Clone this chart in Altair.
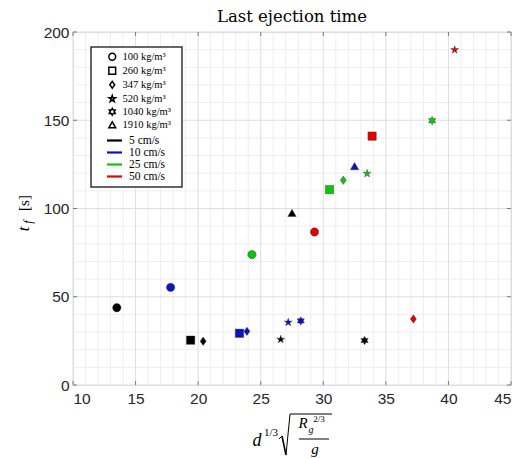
import altair as alt
import pandas as pd

# ---------------- data ----------------
density_levels = ["100 kg/m³", "260 kg/m³", "347 kg/m³", "520 kg/m³", "1040 kg/m³", "1910 kg/m³"]
speed_levels = ["5 cm/s", "10 cm/s", "25 cm/s", "50 cm/s"]

pt_density = ["100 kg/m³", "100 kg/m³", "100 kg/m³", "100 kg/m³",
              "260 kg/m³", "260 kg/m³", "260 kg/m³", "260 kg/m³",
              "347 kg/m³", "347 kg/m³", "347 kg/m³", "347 kg/m³",
              "520 kg/m³", "520 kg/m³", "520 kg/m³", "520 kg/m³",
              "1040 kg/m³", "1040 kg/m³", "1040 kg/m³",
              "1910 kg/m³", "1910 kg/m³"]
pt_speed = ["5 cm/s", "10 cm/s", "25 cm/s", "50 cm/s",
            "5 cm/s", "10 cm/s", "25 cm/s", "50 cm/s",
            "5 cm/s", "10 cm/s", "25 cm/s", "50 cm/s",
            "5 cm/s", "10 cm/s", "25 cm/s", "50 cm/s",
            "5 cm/s", "10 cm/s", "25 cm/s",
            "5 cm/s", "10 cm/s"]
pt_x = [13.5, 17.8, 24.3, 29.3,
        19.4, 23.3, 30.5, 33.9,
        20.4, 23.9, 31.6, 37.2,
        26.6, 27.2, 33.5, 40.5,
        33.3, 28.2, 38.7,
        27.5, 32.5]
pt_y = [43.8, 55.3, 73.9, 86.7,
        25.4, 29.3, 110.7, 141.0,
        24.8, 30.4, 116.0, 37.4,
        25.8, 35.5, 119.8, 189.9,
        25.2, 36.3, 149.8,
        97.5, 124.0]

x_major = [10, 15, 20, 25, 30, 35, 40, 45]
y_major = [0, 50, 100, 150, 200]
x_minor = [v for v in range(10, 46) if v % 5 != 0]
y_minor = [v for v in range(0, 201, 10) if v % 50 != 0]

W, H = 438, 353

STAR = ("M0,-1L0.2245,-0.309L0.951,-0.309L0.363,0.118L0.588,0.809L0,0.382"
        "L-0.588,0.809L-0.363,0.118L-0.951,-0.309L-0.2245,-0.309Z")
HEXA = ("M0,-1L0.289,-0.5L0.866,-0.5L0.577,0L0.866,0.5L0.289,0.5L0,1"
        "L-0.289,0.5L-0.866,0.5L-0.577,0L-0.866,-0.5L-0.289,-0.5Z")
DIAM = "M0,-1L0.72,0L0,1L-0.72,0Z"
HLINE = "M-1.5,0L1.5,0"
shape_range = ["circle", "square", DIAM, STAR, HEXA, "triangle-up"]
color_range = ["#000000", "#0a14c4", "#0fc40f", "#e60000"]

df = pd.DataFrame({"x": pt_x, "y": pt_y, "density": pt_density, "speed": pt_speed,
                   "speed_line": pt_speed})

xscale = alt.Scale(domain=[10, 45], nice=False, zero=False)
yscale = alt.Scale(domain=[0, 200], nice=False, zero=True)
xaxis = alt.Axis(values=x_major, title=None, grid=False, ticks=False, domain=False,
                 labelPadding=6, labelFontSize=15.5, labelColor="#262626",
                 labelFont="Liberation Sans")
yaxis = alt.Axis(values=y_major, title=None, grid=False, ticks=False, domain=False,
                 labelPadding=4, labelFontSize=15.5, labelColor="#262626",
                 labelFont="Liberation Sans")

one = pd.DataFrame({"a": [0]})

# grid
minor_x = alt.Chart(pd.DataFrame({"v": x_minor})).mark_rule(color="#eeeeee", strokeWidth=1).encode(
    x=alt.X("v:Q", scale=xscale, axis=xaxis))
minor_y = alt.Chart(pd.DataFrame({"v": y_minor})).mark_rule(color="#eeeeee", strokeWidth=1).encode(
    y=alt.Y("v:Q", scale=yscale, axis=yaxis))
major_x = alt.Chart(pd.DataFrame({"v": x_major})).mark_rule(color="#dedede", strokeWidth=1).encode(
    x=alt.X("v:Q", scale=xscale, axis=xaxis))
major_y = alt.Chart(pd.DataFrame({"v": y_major})).mark_rule(color="#dedede", strokeWidth=1).encode(
    y=alt.Y("v:Q", scale=yscale, axis=yaxis))

# inner ticks
tick_color = "#7a7a7a"
tb = alt.Chart(pd.DataFrame({"v": x_major})).mark_rule(color=tick_color).encode(
    x=alt.X("v:Q", scale=xscale, axis=xaxis), y=alt.value(H), y2=alt.value(H - 4))
tt = alt.Chart(pd.DataFrame({"v": x_major})).mark_rule(color=tick_color).encode(
    x=alt.X("v:Q", scale=xscale, axis=xaxis), y=alt.value(0), y2=alt.value(4))
tl = alt.Chart(pd.DataFrame({"v": y_major})).mark_rule(color=tick_color).encode(
    y=alt.Y("v:Q", scale=yscale, axis=yaxis), x=alt.value(0), x2=alt.value(4))
tr = alt.Chart(pd.DataFrame({"v": y_major})).mark_rule(color=tick_color).encode(
    y=alt.Y("v:Q", scale=yscale, axis=yaxis), x=alt.value(W), x2=alt.value(W - 4))

# legend frame
frame = alt.Chart(one).mark_rect(fill="white", stroke="#333333", strokeWidth=1.5).encode(
    x=alt.value(18), x2=alt.value(109), y=alt.value(15), y2=alt.value(155))

points = alt.Chart(df).mark_point(filled=True, size=70, opacity=1, stroke="#303030",
                                  strokeWidth=0.4).encode(
    x=alt.X("x:Q", scale=xscale, axis=xaxis),
    y=alt.Y("y:Q", scale=yscale, axis=yaxis),
    shape=alt.Shape("density:N", scale=alt.Scale(domain=density_levels, range=shape_range),
                    legend=alt.Legend(title=None, orient="none", legendX=34, legendY=19.5,
                                      labelFont="Liberation Serif", labelFontSize=10.5,
                                      labelColor="black", symbolSize=46,
                                      symbolFillColor="white", symbolStrokeColor="black",
                                      symbolStrokeWidth=1.5, rowPadding=0,
                                      labelOffset=5)),
    fill=alt.Fill("speed:N", scale=alt.Scale(domain=speed_levels, range=color_range),
                  legend=None),
)

# legend carrier for the speed colours (single-vertex lines draw nothing)
speed_key = alt.Chart(df).mark_line(strokeWidth=2).encode(
    x=alt.X("x:Q", scale=xscale, axis=xaxis),
    y=alt.Y("y:Q", scale=yscale, axis=yaxis),
    detail="density:N",
    stroke=alt.Stroke("speed_line:N", scale=alt.Scale(domain=speed_levels, range=color_range),
                      legend=alt.Legend(title=None, orient="none", legendX=35, legendY=102,
                                        labelFont="Liberation Serif", labelFontSize=11.5,
                                        labelColor="black", symbolType=HLINE,
                                        symbolSize=100, symbolStrokeWidth=2.2,
                                        symbolFillColor="transparent",
                                        rowPadding=0, labelOffset=8)),
)

def txt(s, x, y, size, style="normal", font="Liberation Serif", angle=0, align="center"):
    return alt.Chart(one).mark_text(text=s, fontSize=size, fontStyle=style, font=font,
                                    angle=angle, align=align, baseline="middle",
                                    color="black").encode(x=alt.value(x), y=alt.value(y))

def seg(x1, y1, x2, y2, w=1.0):
    return alt.Chart(one).mark_rule(color="black", strokeWidth=w).encode(
        x=alt.value(x1), y=alt.value(y1), x2=alt.value(x2), y2=alt.value(y2))

# y-axis title: t_f [s]
ytitle = [
    txt("t", -49, 197, 17, "italic", angle=270),
    txt("f", -45, 190, 12, "italic", angle=270),
    txt("[s]", -49, 171, 15, angle=270),
]
# x-axis title: d^{1/3} sqrt(R_g^{2/3} / g)
xtitle = [
    txt("d", 184, 409, 18, "italic"),
    txt("1/3", 198, 401, 11),
    seg(206, 407, 209, 404, 1.0),
    seg(209, 404, 213, 423, 1.6),
    seg(213, 423, 217, 382, 1.0),
    seg(217, 382, 259, 382, 1.0),
    txt("R", 230, 391, 15, "italic"),
    txt("2/3", 246, 387, 9),
    txt("g", 238, 398, 10, "italic"),
    seg(226, 407, 256, 407, 1.0),
    txt("g", 242, 417, 15, "italic"),
]

chart = alt.layer(minor_x, minor_y, major_x, major_y, tb, tt, tl, tr, frame, speed_key, points,
                  *ytitle, *xtitle).properties(
    width=W, height=H,
    title=alt.TitleParams("Last ejection time", font="DejaVu Serif", fontSize=16.5,
                          fontWeight="normal", color="black", offset=0, anchor="middle"),
    autosize=alt.AutoSizeParams(type="none"),
    padding={"left": 73, "top": 32, "right": 17, "bottom": 73},
).configure_view(stroke="#8a8a8a", strokeWidth=1).configure(background="white")

chart.save("out.html", embed_options={"renderer": "svg", "actions": False})
